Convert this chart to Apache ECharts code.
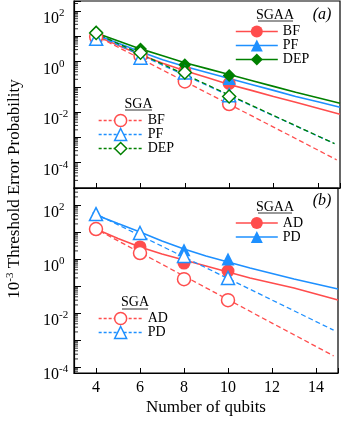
<!DOCTYPE html>
<html><head><meta charset="utf-8">
<script src="https://cdn.jsdelivr.net/npm/echarts@6/dist/echarts.min.js"></script>
<style>html,body{margin:0;padding:0;background:#fff}#c{width:341px;height:421px}</style>
</head><body><div id="c"></div>
<script>
// ---------- data ----------
const QUBITS = [4, 6, 8, 10];
const X_TICKS = [4, 6, 8, 10, 12, 14];
const MINOR_STEPS = [2, 3, 4, 5, 6, 7, 8, 9];

// panel (a) markers
const A_SGAA_BF  = [10.4, 2.06, 0.44, 0.137];
const A_SGAA_PF  = [11.4, 2.47, 0.58, 0.215];
const A_SGAA_DEP = [15.0, 3.2, 0.76, 0.28];
const A_SGA_BF   = [9.6, 1.72, 0.165, 0.021];
const A_SGA_PF   = [8.0, 1.44, 0.37, 0.047];
const A_SGA_DEP  = [13.7, 2.25, 0.37, 0.042];

// panel (a) fit curves
const FIT_SOLID_X = [3.85, 4, 5, 6, 7, 8, 9, 10, 11, 12, 13, 14, 15];
const A_FIT_SGAA_BF  = [12.5, 10.4, 4.4, 1.88, 0.87, 0.44, 0.236, 0.125, 0.073, 0.042, 0.0247, 0.0144, 0.0083];
const A_FIT_SGAA_PF  = [13.7, 11.5, 5.3, 2.47, 1.2, 0.64, 0.37, 0.215, 0.125, 0.073, 0.042, 0.026, 0.0157];
const A_FIT_SGAA_DEP = [16.4, 13.7, 6.6, 3.2, 1.72, 0.91, 0.53, 0.31, 0.18, 0.105, 0.061, 0.037, 0.0225];
const A_FIT_SGA_BF_X  = [3.85, 4, 6, 8, 10, 12, 14.85];
const A_FIT_SGA_BF    = [12.2, 10.4, 1.31, 0.164, 0.0206, 0.00258, 0.00013];
const A_FIT_SGA_PF_X  = [3.85, 4, 6, 8, 10, 12, 14.75];
const A_FIT_SGA_PF    = [13.1, 11.5, 1.82, 0.288, 0.0456, 0.00722, 0.00057];
const A_FIT_SGA_DEP_X = [3.85, 4, 6, 8, 10, 12, 14.75];
const A_FIT_SGA_DEP   = [15.0, 13.1, 2.02, 0.312, 0.048, 0.0074, 0.00057];

// panel (b) markers
const B_SGAA_AD = [12.9, 2.8, 0.71, 0.36];
const B_SGAA_PD = [46, 9.0, 2.2, 1.0];
const B_SGA_AD  = [12.9, 1.67, 0.18, 0.03];
const B_SGA_PD  = [46, 9.2, 1.3, 0.2];

// panel (b) fit curves
const B_FIT_SGAA_AD = [14.7, 12.9, 5.74, 2.78, 1.53, 0.918, 0.55, 0.33, 0.198, 0.129, 0.0843, 0.0506, 0.0303];
const B_FIT_SGAA_PD = [48.4, 42.7, 20.6, 10.0, 4.64, 2.34, 1.29, 0.774, 0.464, 0.29, 0.182, 0.119, 0.0774];
const B_FIT_SGA_X   = [3.85, 4, 6, 8, 10, 12, 14.8];
const B_FIT_SGA_AD  = [15.1, 12.9, 1.74, 0.235, 0.0316, 0.00426, 0.00026];
const B_FIT_SGA_PD  = [53.2, 46.4, 7.42, 1.19, 0.19, 0.0303, 0.00233];

// ---------- styling ----------
const FONT = 'Liberation Serif';
const RED = '#ff4d4d', BLUE = '#1e90ff', GREEN = '#008000';
const SYM = {circle: 'circle', tri: 'triangle', dia: 'diamond'};
const MSIZE = 13;
const A_YMIN = 1e-5, A_YMAX = Math.pow(10, 2.4);
const B_YMIN = Math.pow(10, -4.22), B_YMAX = Math.pow(10, 2.63);

const pairs = (xs, ys) => xs.map((x, i) => [x, ys[i]]);

function fit(name, g, xs, ys, color, sym, dashed) {
  return {
    type: 'line', name: name, xAxisIndex: g, yAxisIndex: g,
    data: pairs(xs, ys), showSymbol: false, symbol: sym, symbolSize: MSIZE,
    silent: true, z: 2,
    lineStyle: {color: color, width: dashed ? 1.3 : 1.6, type: dashed ? [5, 3] : 'solid'},
    itemStyle: dashed ? {color: '#fff', borderColor: color, borderWidth: 1.5} : {color: color}
  };
}
function marks(g, ys, color, sym, open, z) {
  return {
    type: 'scatter', xAxisIndex: g, yAxisIndex: g, silent: true, z: z,
    data: pairs(QUBITS, ys), symbol: sym, symbolSize: MSIZE,
    itemStyle: open ? {color: '#fff', borderColor: color, borderWidth: 1.5, opacity: 1}
                    : {color: color, opacity: 1}
  };
}
function minorTicks(g, lo, hi) {
  const d = [];
  for (let e = Math.floor(Math.log10(lo)); e <= Math.ceil(Math.log10(hi)); e++) {
    MINOR_STEPS.forEach(k => { const v = k * Math.pow(10, e); if (v > lo && v < hi) d.push([3, v]); });
  }
  return {type: 'scatter', xAxisIndex: g, yAxisIndex: g, silent: true, z: 5,
    data: d, symbol: 'rect', symbolSize: [4, 1], symbolOffset: [2, 0],
    itemStyle: {color: '#000'}};
}

function yLab(v) {
  const e = Math.log10(v), r = Math.round(e);
  if (Math.abs(e - r) > 1e-6 || r % 2 !== 0) return '';
  return '{a|10}{b|' + r + '}';
}
function yAxis(g, mn, mx) {
  return {
    type: 'log', logBase: 10, gridIndex: g, min: mn, max: mx,
    axisLine: {show: true, lineStyle: {color: '#000', width: 1.2}},
    axisTick: {show: true, inside: true, length: 7, lineStyle: {color: '#000', width: 1}},
    splitLine: {show: false}, minorTick: {show: false},
    axisLabel: {
      formatter: yLab, align: 'left', margin: 31, padding: [16, 0, 0, 0],
      rich: {
        a: {fontSize: 16, fontFamily: FONT, color: '#000'},
        b: {fontSize: 11, fontFamily: FONT, color: '#000', padding: [0, 0, 12, 0]}
      }
    }
  };
}
function xAxis(g, labels) {
  return {
    type: 'value', gridIndex: g, min: 3, max: 15, splitNumber: 6,
    axisLine: {show: true, lineStyle: {color: '#000', width: 1.2}},
    axisTick: {show: true, inside: true, length: 5, lineStyle: {color: '#000', width: 1}},
    splitLine: {show: false},
    axisLabel: labels ? {
      show: true, fontSize: 16, fontFamily: FONT, color: '#000', margin: 7,
      formatter: v => (X_TICKS.indexOf(v) >= 0 ? String(v) : '')
    } : {show: false},
    name: labels ? 'Number of qubits' : '', nameLocation: 'middle', nameGap: 26,
    nameTextStyle: {fontSize: 17, fontFamily: FONT, color: '#000'}
  };
}
function legend(left, top, iw, names, open) {
  return {
    left: left, top: top, orient: 'vertical', padding: 0,
    itemWidth: iw, itemHeight: 15, itemGap: 0, selectedMode: false,
    formatter: n => n.split('|')[2],
    textStyle: {fontSize: 14, fontFamily: FONT, color: '#000'},
    data: names.map(([n, c]) => ({
      name: n,
      itemStyle: open ? {color: '#fff', borderColor: c, borderWidth: 1.5} : {color: c, borderWidth: 0},
      lineStyle: {color: c, width: open ? 1.3 : 1.6, type: open ? [3, 2] : 'solid', opacity: 1}
    }))
  };
}

const series = [
  // panel a fits
  fit('a|SGAA|BF', 0, FIT_SOLID_X, A_FIT_SGAA_BF, RED, SYM.circle, false),
  fit('a|SGAA|PF', 0, FIT_SOLID_X, A_FIT_SGAA_PF, BLUE, SYM.tri, false),
  fit('a|SGAA|DEP', 0, FIT_SOLID_X, A_FIT_SGAA_DEP, GREEN, SYM.dia, false),
  fit('a|SGA|BF', 0, A_FIT_SGA_BF_X, A_FIT_SGA_BF, RED, SYM.circle, true),
  fit('a|SGA|PF', 0, A_FIT_SGA_PF_X, A_FIT_SGA_PF, BLUE, SYM.tri, true),
  fit('a|SGA|DEP', 0, A_FIT_SGA_DEP_X, A_FIT_SGA_DEP, GREEN, SYM.dia, true),
  // panel a markers
  marks(0, A_SGAA_BF, RED, SYM.circle, false, 3),
  marks(0, A_SGAA_PF, BLUE, SYM.tri, false, 3),
  marks(0, A_SGAA_DEP, GREEN, SYM.dia, false, 3),
  marks(0, A_SGA_BF, RED, SYM.circle, true, 4),
  marks(0, A_SGA_PF, BLUE, SYM.tri, true, 4),
  marks(0, A_SGA_DEP, GREEN, SYM.dia, true, 4),
  // panel b fits
  fit('b|SGAA|AD', 1, FIT_SOLID_X, B_FIT_SGAA_AD, RED, SYM.circle, false),
  fit('b|SGAA|PD', 1, FIT_SOLID_X, B_FIT_SGAA_PD, BLUE, SYM.tri, false),
  fit('b|SGA|AD', 1, B_FIT_SGA_X, B_FIT_SGA_AD, RED, SYM.circle, true),
  fit('b|SGA|PD', 1, B_FIT_SGA_X, B_FIT_SGA_PD, BLUE, SYM.tri, true),
  // panel b markers
  marks(1, B_SGAA_AD, RED, SYM.circle, false, 3),
  marks(1, B_SGAA_PD, BLUE, SYM.tri, false, 3),
  marks(1, B_SGA_AD, RED, SYM.circle, true, 4),
  marks(1, B_SGA_PD, BLUE, SYM.tri, true, 4),
  minorTicks(0, A_YMIN, A_YMAX),
  minorTicks(1, B_YMIN, B_YMAX)
];

const txt = (x, y, t, extra) => ({type: 'text', x: x, y: y, silent: true, z: 100,
  style: Object.assign({text: t, fontSize: 14, fontFamily: FONT, fill: '#000', align: 'center', verticalAlign: 'middle'}, extra || {})});
const uline = (x1, x2, y) => ({type: 'line', silent: true, z: 100, shape: {x1: x1, y1: y, x2: x2, y2: y}, style: {stroke: '#333', lineWidth: 1}});

const option = {
  animation: false,
  backgroundColor: '#fff',
  grid: [
    {left: 74, right: 1, top: 1, height: 187, show: true, borderColor: '#000', borderWidth: 1.2, backgroundColor: 'transparent'},
    {left: 74, right: 1, top: 188, height: 185, show: true, borderColor: '#000', borderWidth: 1.2, backgroundColor: 'transparent'}
  ],
  xAxis: [xAxis(0, false), xAxis(1, true)],
  yAxis: [yAxis(0, A_YMIN, A_YMAX), yAxis(1, B_YMIN, B_YMAX)],
  legend: [
    legend(235, 24.5, 42, [['a|SGAA|BF', RED], ['a|SGAA|PF', BLUE], ['a|SGAA|DEP', GREEN]], false),
    legend(98, 113.5, 44, [['a|SGA|BF', RED], ['a|SGA|PF', BLUE], ['a|SGA|DEP', GREEN]], true),
    legend(235, 216, 42, [['b|SGAA|AD', RED], ['b|SGAA|PD', BLUE]], false),
    legend(98, 311.5, 44, [['b|SGA|AD', RED], ['b|SGA|PD', BLUE]], true)
  ],
  graphic: [
    txt(15, 189, '{a|10}{s|-3}{a| Threshold Error Probability}', {
      rich: {a: {fontSize: 17, fontFamily: FONT, fill: '#000'}, s: {fontSize: 11, fontFamily: FONT, fill: '#000', padding: [0, 0, 10, 0]}}
    }),
    Object.assign(txt(15, 189, ''), {}),
    txt(275, 15, 'SGAA'), uline(258, 293, 21),
    txt(138.5, 104, 'SGA'), uline(125, 152, 110),
    txt(275, 207, 'SGAA'), uline(258, 292, 213),
    txt(135, 302, 'SGA'), uline(122, 148, 309),
    txt(322, 15, '(a)', {fontSize: 16, fontStyle: 'italic'}),
    txt(322, 201, '(b)', {fontSize: 16, fontStyle: 'italic'})
  ],
  series: series
};
option.graphic[0].rotation = Math.PI / 2;

const chart = echarts.init(document.getElementById('c'), null, {renderer: 'canvas'});
chart.setOption(option);
</script>
</body></html>
